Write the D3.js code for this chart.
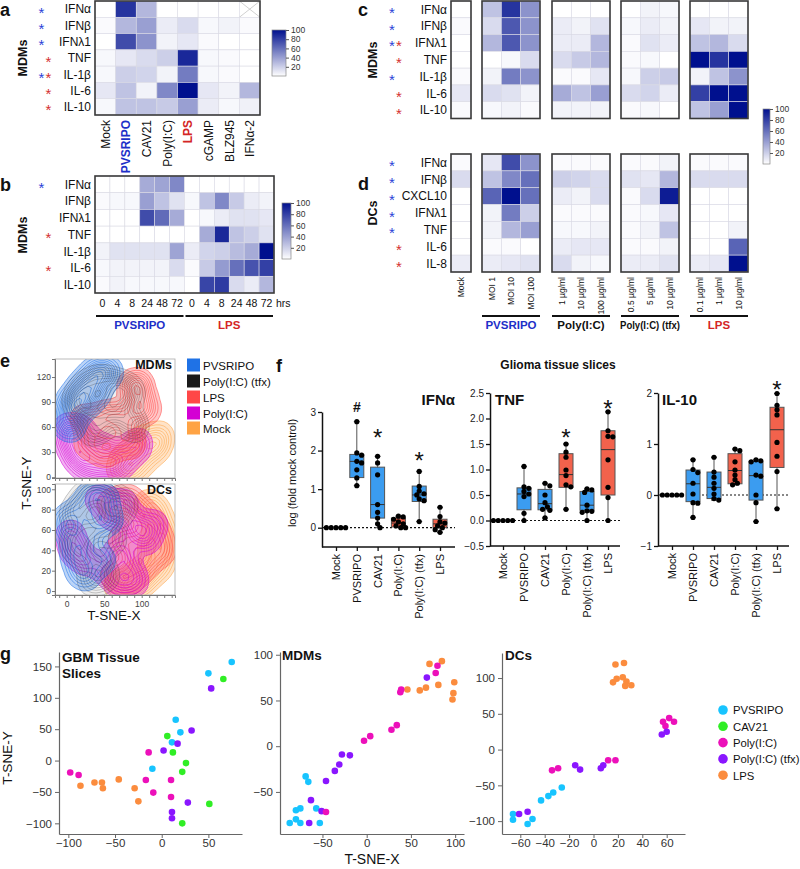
<!DOCTYPE html>
<html><head><meta charset="utf-8">
<script src="https://cdn.jsdelivr.net/npm/d3@7"></script>
<style>body{margin:0;background:#fff}svg{font-family:"Liberation Sans",Arial,Helvetica,sans-serif}</style>
</head><body><svg id="c" width="800" height="869"></svg>
<script>
// ================= DATA =================
const cytokinesA = ["IFNα","IFNβ","IFNλ1","TNF","IL-1β","IL-6","IL-10"];
const treatmentsA = ["Mock","PVSRIPO","CAV21","Poly(I:C)","LPS","cGAMP","BLZ945","IFNα-2"];
const valuesA = [
 [0,85,30,0,0,0,0,null],
 [2,30,40,8,15,3,5,2],
 [0,75,45,5,10,2,0,0],
 [3,10,15,20,90,3,2,0],
 [3,20,18,5,55,3,2,0],
 [10,25,5,50,100,10,5,30],
 [3,25,25,22,40,8,3,6]
];
const starsA = ["b","b","b","r","br","r","r"];

const cytokinesB = ["IFNα","IFNβ","IFNλ1","TNF","IL-1β","IL-6","IL-10"];
const hoursB = ["0","4","8","24","48","72"];
const groupsB = ["PVSRIPO","LPS"];
const valuesB = [
 [0,0,0,35,38,50, 0,0,0,0,0,0],
 [2,3,3,40,25,12, 3,25,50,22,8,5],
 [0,0,0,75,62,35, 0,3,8,12,12,10],
 [0,0,0,0,0,0, 0,35,90,25,20,12],
 [5,12,12,12,12,38, 8,18,20,28,35,100],
 [3,5,5,5,5,15, 2,22,42,60,72,80],
 [2,5,3,3,3,3, 0,78,82,15,8,30]
];
const starsB = ["b","","","r","","r",""];

const groupsCD = ["Mock","PVSRIPO","Poly(I:C)","Poly(I:C) (tfx)","LPS"];
const dosesCD = [["Mock"],["MOI 1","MOI 10","MOI 100"],["1 µg/ml","10 µg/ml","100 µg/ml"],["0.5 µg/ml","5 µg/ml","10 µg/ml"],["0.1 µg/ml","1 µg/ml","10 µg/ml"]];
const cytokinesC = ["IFNα","IFNβ","IFNλ1","TNF","IL-1β","IL-6","IL-10"];
const valuesC = [
 [0, 25,85,45, 0,0,0, 0,5,3, 0,0,0],
 [2, 15,70,45, 8,5,12, 3,8,5, 10,5,5],
 [0, 30,70,45, 8,8,30, 2,12,8, 25,30,15],
 [0, 0,3,15, 15,22,30, 2,3,0, 100,85,100],
 [2, 5,55,45, 2,2,10, 3,20,22, 5,25,45],
 [10, 15,12,5, 35,25,40, 15,18,8, 80,100,100],
 [2, 3,5,2, 5,5,5, 2,3,0, 25,40,100]
];
const starsC = ["b","b","br","r","b","r","r"];
const cytokinesD = ["IFNα","IFNβ","CXCL10","IFNλ1","TNF","IL-6","IL-8"];
const valuesD = [
 [2, 10,75,45, 2,2,2, 2,2,5, 2,2,2],
 [15, 25,50,60, 20,18,15, 12,10,30, 15,15,15],
 [0, 65,100,60, 8,5,15, 2,15,95, 0,0,0],
 [0, 5,55,20, 2,2,2, 2,3,10, 0,0,0],
 [0, 5,30,40, 3,3,5, 2,5,25, 0,0,5],
 [0, 2,2,0, 8,10,10, 2,2,5, 0,0,65],
 [8, 8,10,12, 15,5,3, 8,8,12, 8,10,100]
];
const starsD = ["b","b","b","b","b","r","r"];
const colorbarTicks = [20,40,60,80,100];

// panel e: approximate density shapes (t-SNE coords)
const eGroups = ["PVSRIPO","Poly(I:C) (tfx)","LPS","Poly(I:C)","Mock"];
const eMdmMock = [[70,8],[80,12],[90,20],[100,28],[110,38],[118,45],[125,52],[115,30],[100,15],[85,5],[75,25],[95,45],[122,40]];
const eMdmPoly = [[5,45],[10,35],[15,25],[25,15],[40,10],[55,12],[70,15],[30,30],[45,35],[20,55],[60,25],[85,30],[95,40],[2,58]];
const eMdmLPS = [[95,112],[100,95],[105,80],[90,80],[70,70],[55,75],[40,60],[30,40],[50,30],[60,40],[80,55],[85,40],[25,70],[88,108]];
const eMdmPVSRIPO = [[5,90],[10,80],[0,70],[15,100],[25,110],[35,120],[45,128],[55,125],[30,95],[20,85],[5,60],[40,105]];
const eMdmTfx = [[20,100],[30,110],[45,115],[60,112],[75,108],[85,100],[70,95],[55,90],[40,85],[25,75],[35,55],[50,65],[80,70],[90,60],[15,90],[65,80]];
const eDcMock = [[70,5],[85,5],[100,10],[115,20],[125,30],[130,45],[128,60],[120,75],[110,85],[95,15],[115,45]];
const eDcPoly = [[5,55],[10,40],[25,30],[60,75],[75,85],[85,70],[95,60],[70,40],[80,25],[90,10],[70,8],[55,20],[105,50],[115,65],[45,90]];
const eDcLPS = [[60,85],[80,90],[95,80],[110,70],[120,55],[125,40],[110,30],[95,20],[80,10],[65,15],[75,50],[100,50],[90,35]];
const eDcPVSRIPO = [[0,70],[5,60],[10,40],[15,25],[25,15],[20,80],[35,95],[50,90],[40,70],[30,50],[55,70],[45,30]];
const eDcTfx = [[10,75],[20,85],[30,95],[45,98],[60,90],[65,75],[50,70],[35,60],[20,55],[10,45],[25,35],[40,25],[50,15],[35,10],[60,50],[75,85]];

// panel f
const fCats = ["Mock","PVSRIPO","CAV21","Poly(I:C)","Poly(I:C) (tfx)","LPS"];
const fKind = ["none","virus","virus","agonist","virus","agonist"];
const ifnaPoints = [
 [0,0,0,0,0,0,0,0],
 [2.75,1.94,1.88,1.72,1.68,1.5,1.29,1.09],
 [1.85,1.68,1.37,0.6,0.4,0.25,0.1,0],
 [0.3,0.28,0.22,0.15,0.1,0.05,0,0],
 [1.46,1.07,0.95,0.88,0.85,0.75,0.7,0.16],
 [0.53,0.29,0.15,0.12,0.05,0,-0.05,-0.12]
];
const ifnaBoxes = [null,[1.09,1.3,1.72,1.9,2.75],[0,0.25,0.6,1.57,1.85],[0,0.02,0.12,0.25,0.3],[0.16,0.68,0.85,1.08,1.46],[-0.12,0,0.1,0.22,0.53]];
const tnfPoints = [
 [0,0,0,0,0,0,0,0],
 [1.06,0.66,0.63,0.57,0.52,0.47,0.14,0],
 [0.73,0.68,0.5,0.35,0.27,0.22,0.2,0.05],
 [1.5,1.34,1.24,0.99,0.88,0.7,0.66,0.22],
 [0.62,0.6,0.55,0.3,0.19,0.18,0.16,0],
 [2.13,1.76,1.65,1.64,1.19,0.65,0.45,0]
];
const tnfBoxes = [null,[0,0.21,0.52,0.64,1.06],[0.05,0.21,0.33,0.61,0.73],[0.22,0.65,0.9,1.31,1.5],[0,0.2,0.3,0.57,0.62],[0,0.5,1.39,1.76,2.13]];
const il10Points = [
 [0,0,0,0,0,0,0,0],
 [0.69,0.5,0.44,0.23,0.02,-0.15,-0.16,-0.44],
 [0.74,0.45,0.35,0.23,0.13,0.02,-0.07,-0.1],
 [0.9,0.87,0.65,0.49,0.39,0.3,0.23,0.2],
 [0.69,0.67,0.65,0.39,0.37,0,-0.15,-0.52],
 [1.99,1.76,1.67,1.57,1.03,0.76,0.46,-0.27]
];
const il10Boxes = [null,[-0.44,-0.13,0.22,0.49,0.69],[-0.1,-0.07,0.15,0.45,0.74],[0.2,0.22,0.48,0.81,0.9],[-0.52,-0.1,0.38,0.66,0.69],[-0.27,0.54,1.28,1.72,1.99]];
const ifnaMarks = [["PVSRIPO","#",3.12],["CAV21","*",2.48],["Poly(I:C) (tfx)","*",1.86]];
const tnfMarks = [["Poly(I:C)","*",1.73],["LPS","*",2.29]];
const il10Marks = [["LPS","*",2.16]];

// panel g
const gGroups = ["PVSRIPO","CAV21","Poly(I:C)","Poly(I:C) (tfx)","LPS"];
const gbmPVSRIPO = [[75,157],[50,139],[15,65],[20,45],[11,29],[-10,-13]];
const gbmCAV21 = [[66,130],[6,39],[12,13],[26,-4],[22,-18],[51,-69],[22,-100]];
const gbmPoly = [[-14,13],[-98,-19],[-89,-23],[-17,-31],[10,-31],[-9,-51],[10,-58]];
const gbmTfx = [[53,115],[32,48],[17,27],[2,16],[28,-67],[11,-82],[11,-92]];
const gbmLPS = [[-87,-40],[-72,-35],[-64,-35],[-63,-44],[-46,-30],[-29,-44],[-25,-65]];
const mdmPVSRIPO = [[-69,-33],[-66,-39],[-80,-70],[-75,-68],[-57,-68],[-80,-80],[-87,-84],[-75,-84],[-53,-84]];
const mdmCAV21 = [];
const mdmPoly = [[80,88],[78,80],[39,62],[38,59],[34,23],[28,18],[4,11],[-3,6],[-46,-72]];
const mdmTfx = [[68,75],[-28,-9],[-19,-10],[-31,-20],[-36,-27],[-46,-38],[-63,-59],[-51,-71],[-65,-84]];
const mdmLPS = [[71,90],[85,93],[81,67],[67,64],[60,61],[46,62],[99,70],[98,58],[97,51]];
const dcPVSRIPO = [[-66,-90],[-66,-98],[-54,-104],[-50,-97],[-43,-71],[-37,-65],[-33,-60],[-26,-53]];
const dcCAV21 = [];
const dcPoly = [[57,39],[62,44],[59,33],[66,39],[12,-15],[18,-15],[-34,-29],[-29,-26]];
const dcTfx = [[-61,-90],[-54,-87],[-15,-22],[-11,-28],[6,-26],[8,-22],[56,21],[60,25]];
const dcLPS = [[18,119],[25,121],[16,94],[19,99],[24,101],[27,95],[26,89],[31,90]];

// ================= STYLE =================
const BLUE_T = "#1d2fc8", RED_T = "#d42525";
const heat = d3.scaleLinear().domain([0,100]).range(["#ffffff","#00108e"]);
const svg = d3.select("#c");

function txt(x,y,s,o={}){
  const t = svg.append("text").attr("x",x).attr("y",y).text(s)
    .attr("font-size",o.size||12).attr("fill",o.fill||"#111")
    .attr("text-anchor",o.anchor||"start");
  if(o.bold) t.attr("font-weight","bold");
  if(o.rot) t.attr("transform",`rotate(${o.rot},${x},${y})`);
  if(o.len) t.attr("textLength",o.len).attr("lengthAdjust","spacingAndGlyphs");
  return t;
}

function heatmap(vals, x0,x1,y0,y1){
  const xb = d3.scaleBand().domain(d3.range(vals[0].length)).range([x0,x1]);
  const yb = d3.scaleBand().domain(d3.range(vals.length)).range([y0,y1]);
  const g = svg.append("g");
  vals.forEach((row,i)=>row.forEach((v,j)=>{
    g.append("rect").attr("x",xb(j)).attr("y",yb(i)).attr("width",xb.bandwidth()).attr("height",yb.bandwidth())
      .attr("fill",v==null?"#fff":heat(v)).attr("stroke","#dadae4").attr("stroke-width",0.6);
    if(v==null){
      const a=xb(j),b=yb(i),w=xb.bandwidth(),h=yb.bandwidth();
      g.append("path").attr("d",`M${a},${b}L${a+w},${b+h}M${a+w},${b}L${a},${b+h}`).attr("stroke","#c4c4c4").attr("stroke-width",0.8);
    }
  }));
  g.append("rect").attr("x",x0).attr("y",y0).attr("width",x1-x0).attr("height",y1-y0)
    .attr("fill","none").attr("stroke","#3a3a3a").attr("stroke-width",1.6);
  return {xb,yb};
}

function rowLabels(rows, yb, xRight, stars, xBlue, xRed){
  rows.forEach((r,i)=>{
    const cy = yb(i)+yb.bandwidth()/2;
    txt(xRight, cy+4.3, r, {anchor:"end", size:12});
    const s = stars[i];
    if(s.includes("b")) txt(xBlue, cy+8.5, "*", {anchor:"middle", size:15, fill:"#2b3fd8"});
    if(s.includes("r")) txt(xRed, cy+8.5, "*", {anchor:"middle", size:15, fill:"#d43030"});
  });
}

let gradN=0;
function colorbar(x,y,w,h,fontSize){
  const id="grad"+(gradN++);
  const lg = svg.append("defs").append("linearGradient").attr("id",id).attr("x1",0).attr("y1",1).attr("x2",0).attr("y2",0);
  d3.range(0,101,10).forEach(v=>lg.append("stop").attr("offset",v/100).attr("stop-color",heat(v)));
  svg.append("rect").attr("x",x).attr("y",y).attr("width",w).attr("height",h).attr("fill",`url(#${id})`).attr("stroke","#888").attr("stroke-width",0.7);
  const s = d3.scaleLinear().domain([0,100]).range([y+h,y]);
  const ax = svg.append("g").attr("transform",`translate(${x+w},0)`).call(d3.axisRight(s).tickValues(colorbarTicks).tickSize(3).tickPadding(2));
  ax.select(".domain").remove();
  ax.selectAll("line").attr("stroke","#555");
  ax.selectAll("text").attr("font-size",fontSize).attr("fill","#333").attr("font-family",null);
}

// ================= PANEL a =================
txt(0,16,"a",{size:18,bold:true});
txt(27,58,"MDMs",{size:12.5,bold:true,anchor:"middle",rot:-90});
{
  const {xb,yb} = heatmap(valuesA, 95,260,1,115);
  rowLabels(cytokinesA, yb, 91, starsA, 41.5, 48.5);
  treatmentsA.forEach((t,j)=>{
    const cx = xb(j)+xb.bandwidth()/2+4.5;
    const special = t==="PVSRIPO"?BLUE_T:(t==="LPS"?RED_T:null);
    txt(cx,120,t,{anchor:"end",rot:-90,size:12,bold:!!special,fill:special||"#111"});
  });
  colorbar(272,30,14,46,8.5);
}

// ================= PANEL b =================
txt(0,191,"b",{size:18,bold:true});
txt(27,235,"MDMs",{size:12.5,bold:true,anchor:"middle",rot:-90});
{
  const {xb,yb} = heatmap(valuesB, 95,274,176,293);
  rowLabels(cytokinesB, yb, 91, starsB, 41.5, 48.5);
  const cols = groupsB.flatMap(()=>hoursB);
  cols.forEach((h,j)=>txt(xb(j)+xb.bandwidth()/2,307,h,{anchor:"middle",size:10.5}));
  txt(276,307,"hrs",{size:10.5});
  groupsB.forEach((gname,k)=>{
    const a = xb(k*hoursB.length), b = xb((k+1)*hoursB.length-1)+xb.bandwidth();
    svg.append("line").attr("x1",a+1).attr("x2",b-1).attr("y1",316).attr("y2",316).attr("stroke","#111").attr("stroke-width",2);
    txt((a+b)/2,329,gname,{anchor:"middle",bold:true,size:11.5,fill:k===0?BLUE_T:RED_T});
  });
  colorbar(282,203,9,56,8.5);
}

// ================= PANELS c & d =================
const blockX = [451,482,552,621,690];
const blockW = [20,58,58,58,58];
const blockScales = [];
function splitBlocks(vals){
  let k=0; return dosesCD.map(d=>{const r=vals.map(row=>row.slice(k,k+d.length)); k+=d.length; return r;});
}
function blockPanel(vals, rows, stars, y0, y1){
  let yb;
  splitBlocks(vals).forEach((bv,i)=>{
    const r = heatmap(bv, blockX[i], blockX[i]+blockW[i], y0, y1);
    yb = r.yb; blockScales[i] = r.xb;
  });
  rowLabels(rows, yb, 447, stars, 392, 399);
}
txt(358,16,"c",{size:18,bold:true});
txt(377,60,"MDMs",{size:12.5,bold:true,anchor:"middle",rot:-90});
blockPanel(valuesC, cytokinesC, starsC, 1, 118.5);
txt(358,190,"d",{size:18,bold:true});
txt(377,213,"DCs",{size:12.5,bold:true,anchor:"middle",rot:-90});
blockPanel(valuesD, cytokinesD, starsD, 154, 272);
{
  dosesCD.forEach((doses,i)=>{
    const xb = blockScales[i];
    doses.forEach((d,j)=>txt(xb(j)+xb.bandwidth()/2+3.2,277,d,{anchor:"end",rot:-90,size:8.5}));
    if(i>0){
      const a=blockX[i], b=blockX[i]+blockW[i];
      svg.append("line").attr("x1",a).attr("x2",b).attr("y1",316).attr("y2",316).attr("stroke","#111").attr("stroke-width",2);
      const col = groupsCD[i]==="PVSRIPO"?BLUE_T:(groupsCD[i]==="LPS"?RED_T:"#111");
      txt((a+b)/2,329,groupsCD[i],{anchor:"middle",bold:true,size:11.5,fill:col,len:groupsCD[i]==="Poly(I:C) (tfx)"?60:null});
    }
  });
  colorbar(763,109,7,55,8.5);
}

// ================= PANEL e =================
txt(0,367,"e",{size:18,bold:true});
const eColors = {"PVSRIPO":"#1f72e6","Poly(I:C) (tfx)":"#1a1a1a","LPS":"#ff4747","Poly(I:C)":"#d400d4","Mock":"#ffa344"};
function contourPanel(fr, sets, label, yTicks){
  const x = d3.scaleLinear().domain(fr.xd).range([fr.x0,fr.x1]);
  const y = d3.scaleLinear().domain(fr.yd).range([fr.y1,fr.y0]);
  const cid = "clip"+label;
  svg.append("clipPath").attr("id",cid).append("rect").attr("x",fr.x0).attr("y",fr.y0).attr("width",fr.x1-fr.x0).attr("height",fr.y1-fr.y0);
  const g = svg.append("g").attr("clip-path",`url(#${cid})`);
  sets.forEach(([name,pts])=>{
    const dens = d3.contourDensity().x(d=>x(d[0])).y(d=>y(d[1])).size([800,869]).bandwidth(6.5).thresholds(11)(pts);
    const col = eColors[name];
    const dark = name==="Poly(I:C) (tfx)";
    if(dens.length) g.append("path").attr("d",d3.geoPath()(dens[0])).attr("fill",col).attr("fill-opacity",dark?0.07:0.3).attr("stroke","none");
    dens.forEach(c=>g.append("path").attr("d",d3.geoPath()(c)).attr("fill","none").attr("stroke",dark?"#333":col)
      .attr("stroke-width",dark?0.45:0.6).attr("stroke-opacity",dark?0.6:0.9));
  });
  svg.append("rect").attr("x",fr.x0).attr("y",fr.y0).attr("width",fr.x1-fr.x0).attr("height",fr.y1-fr.y0).attr("fill","none").attr("stroke","#aaa").attr("stroke-width",0.8);
  const ay = svg.append("g").attr("transform",`translate(${fr.x0},0)`).call(d3.axisLeft(y).tickValues(yTicks).tickSize(3).tickPadding(1));
  const ax = svg.append("g").attr("transform",`translate(0,${fr.y1})`).call(d3.axisBottom(x).tickValues(d3.range(-10,141,10)).tickSize(3).tickFormat(d=>[0,50,100].includes(d)?d:""));
  [ay,ax].forEach(a=>{a.select(".domain").attr("stroke","#777");a.selectAll("line").attr("stroke","#777");a.selectAll("text").attr("font-size",8.5).attr("fill","#444").attr("font-family",null);});
  if(label==="MDMs") ax.selectAll("text").remove();
  txt(fr.x1-3, fr.y0+10, label, {anchor:"end", bold:true, size:12.5});
}
contourPanel({x0:55,x1:175,y0:359,y1:478,xd:[-15.6,144.4],yd:[-1,141.6]},
  [["Mock",eMdmMock],["Poly(I:C)",eMdmPoly],["LPS",eMdmLPS],["PVSRIPO",eMdmPVSRIPO],["Poly(I:C) (tfx)",eMdmTfx]], "MDMs", [0,30,60,90,120]);
contourPanel({x0:55,x1:175,y0:484,y1:595,xd:[-15.6,144.4],yd:[-3.9,105.2]},
  [["Mock",eDcMock],["LPS",eDcLPS],["Poly(I:C)",eDcPoly],["PVSRIPO",eDcPVSRIPO],["Poly(I:C) (tfx)",eDcTfx]], "DCs", [0,20,40,60,80,100]);
txt(114,620,"T-SNE-X",{anchor:"middle",size:13.5});
txt(31,483,"T-SNE-Y",{anchor:"middle",size:13.5,rot:-90});
eGroups.forEach((gname,i)=>{
  const cy = [365,381,397,413,428][i];
  svg.append("rect").attr("x",187).attr("y",cy-6.5).attr("width",13).attr("height",13).attr("fill",eColors[gname]);
  txt(203,cy+4.5,gname,{size:11.5});
});

// ================= PANEL f =================
txt(276,372,"f",{size:18,bold:true});
txt(558,369,"Glioma tissue slices",{anchor:"middle",bold:true,size:12});
const fBlue="#3b9cf0", fRed="#f2624c";
function boxPanel(cfg, pts, boxes, marks){
  const y = d3.scaleLinear().domain(cfg.yd).range([cfg.yb,cfg.yt]);
  const x = d3.scalePoint().domain(fCats).range([cfg.xf,cfg.xl]);
  const g = svg.append("g");
  g.append("line").attr("x1",cfg.ax).attr("x2",cfg.ae).attr("y1",y(0)).attr("y2",y(0)).attr("stroke","#111").attr("stroke-width",1.2).attr("stroke-dasharray","2,2");
  boxes.forEach((b,i)=>{
    if(!b) return;
    const cx = x(fCats[i]), bw=14;
    const col = fKind[i]==="virus"?fBlue:fRed;
    g.append("line").attr("x1",cx).attr("x2",cx).attr("y1",y(b[0])).attr("y2",y(b[4])).attr("stroke","#555").attr("stroke-width",1);
    [b[0],b[4]].forEach(v=>g.append("line").attr("x1",cx-3).attr("x2",cx+3).attr("y1",y(v)).attr("y2",y(v)).attr("stroke","#555"));
    g.append("rect").attr("x",cx-bw/2).attr("y",y(b[3])).attr("width",bw).attr("height",y(b[1])-y(b[3])).attr("fill",col).attr("stroke","#555").attr("stroke-width",1);
    g.append("line").attr("x1",cx-bw/2).attr("x2",cx+bw/2).attr("y1",y(b[2])).attr("y2",y(b[2])).attr("stroke","#333").attr("stroke-width",1);
  });
  pts.forEach((vals,i)=>{
    const cx = x(fCats[i]); const placed=[];
    vals.forEach(v=>{
      const py=y(v);
      for(const k of [0,1,-1,2,-2,3,-3,4,-4]){
        const dx=k*2.4;
        if(placed.every(p=>Math.hypot(p[0]-dx,p[1]-py)>=4.2)){placed.push([dx,py]);break;}
      }
    });
    placed.forEach(p=>g.append("circle").attr("cx",cx+p[0]).attr("cy",p[1]).attr("r",2.6).attr("fill","#000"));
  });
  const ay = g.append("g").attr("transform",`translate(${cfg.ax},0)`).call(d3.axisLeft(y).tickValues(cfg.ticks).tickFormat(cfg.fmt).tickSize(4).tickSizeOuter(0).tickPadding(2));
  const ax = g.append("g").attr("transform",`translate(0,${cfg.yb})`).call(d3.axisBottom(x).tickSize(4).tickSizeOuter(0).tickFormat(""));
  ax.select(".domain").attr("d",`M${cfg.ax},0H${cfg.ae}`);
  [ay,ax].forEach(a=>{a.select(".domain").attr("stroke","#111").attr("stroke-width",1.5);a.selectAll("line").attr("stroke","#111").attr("stroke-width",1.3);a.selectAll("text").attr("font-size",10).attr("fill","#222").attr("font-family",null);});
  fCats.forEach(c=>txt(x(c)+4,cfg.yb+7,c,{anchor:"end",rot:-90,size:11}));
  marks.forEach(([c,s,v])=>{
    if(s==="#") txt(x(c),y(v)+5,s,{anchor:"middle",size:14,bold:true});
    else txt(x(c),y(v)+13.5,s,{anchor:"middle",size:24});
  });
  return y;
}
boxPanel({yd:[-0.5,3],yb:547,yt:412,xf:336,xl:440,ax:322,ae:455,ticks:[0,1,2,3],fmt:d3.format("d")}, ifnaPoints, ifnaBoxes, ifnaMarks);
txt(455,405,"IFNα",{anchor:"end",bold:true,size:15});
txt(296,473,"log (fold mock control)",{anchor:"middle",rot:-90,size:11});
boxPanel({yd:[-0.5,2.5],yb:546,yt:393,xf:503,xl:608,ax:490,ae:620,ticks:[-0.5,0,0.5,1,1.5,2,2.5],fmt:d3.format(".1f")}, tnfPoints, tnfBoxes, tnfMarks);
txt(495,405,"TNF",{bold:true,size:15});
boxPanel({yd:[-1,2],yb:546,yt:393,xf:672,xl:777,ax:658,ae:789,ticks:[-1,0,1,2],fmt:d3.format("d")}, il10Points, il10Boxes, il10Marks);
txt(662,405,"IL-10",{bold:true,size:15});

// ================= PANEL g =================
txt(0,660,"g",{size:18,bold:true});
const gColors = {"PVSRIPO":"#17c4ff","CAV21":"#30ee25","Poly(I:C)":"#ec10ba","Poly(I:C) (tfx)":"#8a16ff","LPS":"#fb8c3e"};
function scatter(cfg, sets){
  const x = d3.scaleLinear().domain(cfg.xd).range([cfg.x0,cfg.x1]);
  const y = d3.scaleLinear().domain(cfg.yd).range([cfg.y1,cfg.y0]);
  const ax = svg.append("g").attr("transform",`translate(0,${cfg.y1})`).call(d3.axisBottom(x).tickValues(cfg.xt).tickSize(4).tickSizeOuter(0).tickPadding(1));
  const ay = svg.append("g").attr("transform",`translate(${cfg.x0},0)`).call(d3.axisLeft(y).tickValues(cfg.yt).tickSize(4).tickSizeOuter(0).tickPadding(3));
  [ax,ay].forEach(a=>{a.select(".domain").attr("stroke","#666").attr("stroke-width",1.2);a.selectAll("line").attr("stroke","#666");a.selectAll("text").attr("font-size",11.5).attr("fill","#333").attr("font-family",null);});
  sets.forEach(([name,pts])=>pts.forEach(p=>svg.append("circle").attr("cx",x(p[0])).attr("cy",y(p[1])).attr("r",3.3).attr("fill",gColors[name])));
}
scatter({x0:59,x1:242,y0:652,y1:834,xd:[-110,86],yd:[-117,173],xt:[-100,-50,0,50],yt:[-100,-50,0,50,100,150]},
  [["PVSRIPO",gbmPVSRIPO],["CAV21",gbmCAV21],["Poly(I:C)",gbmPoly],["Poly(I:C) (tfx)",gbmTfx],["LPS",gbmLPS]]);
scatter({x0:280,x1:464,y0:652,y1:834,xd:[-98,110],yd:[-96,103],xt:[-50,0,50,100],yt:[-50,0,50,100]},
  [["PVSRIPO",mdmPVSRIPO],["CAV21",mdmCAV21],["LPS",mdmLPS],["Poly(I:C) (tfx)",mdmTfx],["Poly(I:C)",mdmPoly]]);
scatter({x0:502,x1:685,y0:653,y1:834,xd:[-75,75],yd:[-118,135],xt:[-60,-40,-20,0,20,40,60],yt:[-100,-50,0,50,100]},
  [["PVSRIPO",dcPVSRIPO],["CAV21",dcCAV21],["LPS",dcLPS],["Poly(I:C)",dcPoly],["Poly(I:C) (tfx)",dcTfx]]);
txt(62,662,"GBM Tissue",{bold:true,size:13.5});
txt(62,678,"Slices",{bold:true,size:13.5});
txt(282,660,"MDMs",{bold:true,size:13.5});
txt(505,660,"DCs",{bold:true,size:13.5});
txt(12,758,"T-SNE-Y",{anchor:"middle",size:13.5,rot:-90});
txt(372,864,"T-SNE-X",{anchor:"middle",size:14});
gGroups.forEach((gname,i)=>{
  const cy = 710 + i*16.3;
  svg.append("circle").attr("cx",723).attr("cy",cy).attr("r",4.8).attr("fill",gColors[gname]);
  txt(733,cy+4.3,gname,{size:11.3});
});
</script></body></html>
